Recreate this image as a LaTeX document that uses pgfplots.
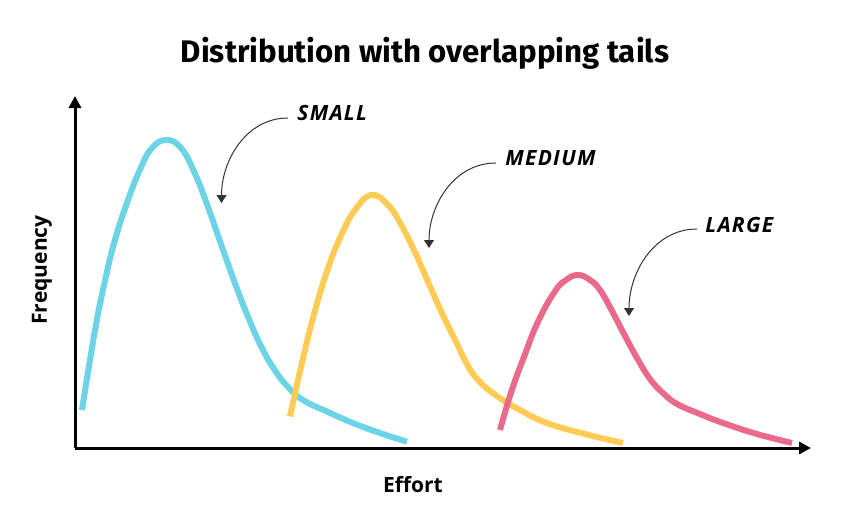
\documentclass[border=0pt]{standalone}
\usepackage{pgfplots}
\pgfplotsset{compat=1.18}
\usepackage{fontspec}
\setmainfont{Open Sans}
\newfontfamily\titlefont{Fira Sans}
\newfontfamily\hand{Open Sans}[LetterSpace=6]
\usetikzlibrary{arrows.meta}
\definecolor{cblue}{HTML}{6DD3E6}
\definecolor{cyellow}{HTML}{FFCB57}
\definecolor{cpink}{HTML}{EB6A8C}
\begin{document}
\begin{tikzpicture}
\begin{axis}[
  scale only axis, width=428.5pt, height=258pt,
  xmin=0, xmax=857, ymin=0, ymax=516,
  hide axis, clip=false,
]
\path (axis cs:0,0) rectangle (axis cs:857,516);
% axes
\draw[line width=1.5pt, -{Triangle[width=6pt,length=6pt]}] (axis cs:75,68) -- (axis cs:811,68);
\draw[line width=1.5pt, -{Triangle[width=6pt,length=6pt]}] (axis cs:75,68) -- (axis cs:75,420);
% curves
\addplot[cblue, line width=3pt, smooth, tension=0.75, line cap=butt] coordinates {
(82,106) (94.7,184) (104.7,234) (114.7,275) (128,316) (141.3,349.3) (152,368) (166.3,376) (181,368) (194.7,343) (208,309) (221.3,271) (234.7,233.5) (248,199.3) (261.3,169.3) (274.7,146) (288,129) (303,116) (328,104) (353,93) (380,83) (407,74.3)};
\addplot[cyellow, line width=3pt, smooth, tension=0.75, line cap=butt] coordinates {
(290,99.5) (303,157.7) (314.7,204.3) (328,247.7) (341.3,281) (355,306) (371.3,321) (388,311) (401.3,291) (414.7,264.3) (428,234.3) (441.3,204.3) (454.7,177) (468,150) (481,133) (497,120) (520,106) (547,93) (585,82) (623,73)};
\addplot[cpink, line width=3pt, smooth, tension=0.75, line cap=butt] coordinates {
(500,86) (511.3,124.3) (524.7,161) (538,194.3) (554.7,224.3) (566,236) (578,241) (590,236) (600,226) (612,205) (624,182) (637,158) (650,137) (664,122) (678,111.5) (700,102) (723,93) (757,82) (792,73)};
% annotations
\draw[black!80, line width=0.5pt, -{Triangle[width=5pt,length=4pt]}] (axis cs:288,398) to[out=180,in=90] (axis cs:221.5,313);
\draw[black!80, line width=0.5pt, -{Triangle[width=5pt,length=4pt]}] (axis cs:496,353) to[out=180,in=90] (axis cs:429,268);
\draw[black!80, line width=0.5pt, -{Triangle[width=5pt,length=4pt]}] (axis cs:697,287) to[out=180,in=90] (axis cs:629,200);
\node[anchor=west, inner sep=0pt, font=\hand\bfseries\itshape\fontsize{10.5}{12}\selectfont] at (axis cs:297,403) {SMALL};
\node[anchor=west, inner sep=0pt, font=\hand\bfseries\itshape\fontsize{10.5}{12}\selectfont] at (axis cs:505,358) {MEDIUM};
\node[anchor=west, inner sep=0pt, font=\hand\bfseries\itshape\fontsize{10.5}{12}\selectfont] at (axis cs:705,291) {LARGE};
% labels
\node[font=\titlefont\bfseries\fontsize{15.6}{18}\selectfont] at (axis cs:425,463) {Distribution with overlapping tails};
\node[font=\bfseries\fontsize{10.5}{12}\selectfont] at (axis cs:413,31) {Effort};
\node[rotate=90, font=\bfseries\fontsize{10.5}{12}\selectfont] at (axis cs:42,246) {Frequency};
\end{axis}
\end{tikzpicture}
\end{document}
